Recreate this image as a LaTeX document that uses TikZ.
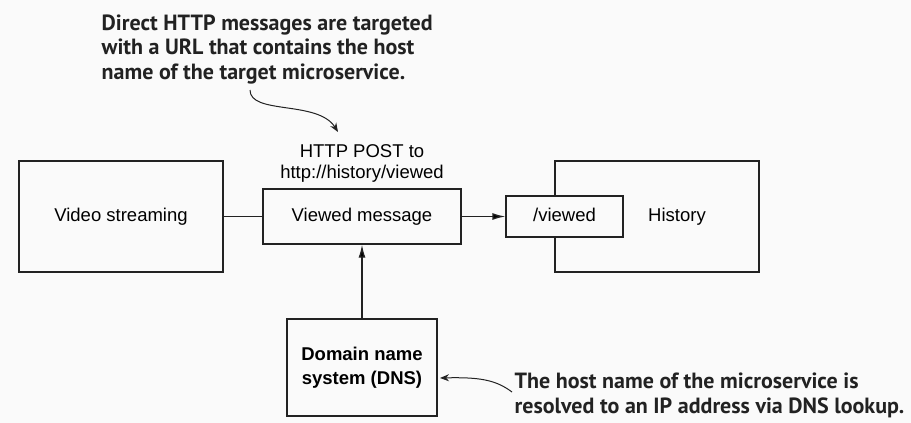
\documentclass[tikz,border=0pt]{standalone}
\usepackage{fontspec}
\setmainfont{Liberation Sans}
\newfontfamily\calloutfont{PT Sans}
\usetikzlibrary{positioning,arrows.meta}
\definecolor{paper}{RGB}{250,250,250}
\definecolor{ink}{RGB}{34,34,34}

\begin{document}
\begin{tikzpicture}[x=1pt, y=-1pt, line width=1.3pt,
  box/.style={draw=ink, fill=paper, inner sep=0pt, align=center, font=\fontsize{18.5}{21}\selectfont},
  note/.style={text=ink, align=left, inner sep=0pt, font=\calloutfont\bfseries\fontsize{22}{24.5}\selectfont},
  >={Latex[length=13pt,width=7pt]}]
  \fill[paper] (0,0) rectangle (911,423);
  \useasboundingbox (0,0) rectangle (911,423);
  \node[box, minimum width=204pt, minimum height=111pt] (vs) at (121,216.5) {Video streaming};
  \node[box, minimum width=198pt, minimum height=55pt] (vm) at (362,216.5) {Viewed message};
  \node[box, minimum width=204pt, minimum height=111pt,
    label={[xshift=20pt, font=\fontsize{18.5}{21}\selectfont]center:History}] (hist) at (657,216.5) {};
  \node[box, minimum width=117pt, minimum height=41pt, text height=13.5pt, text depth=4pt] (ep) at (564.5,216.5) {/viewed};
  \node[box, minimum width=150pt, minimum height=97pt, font=\bfseries\fontsize{18.5}{24}\selectfont] (dns) at (362,367.5) {Domain name\\system (DNS)};
  \node[align=center, inner sep=0pt, font=\fontsize{18.5}{21}\selectfont, above=5pt of vm] (post) {HTTP POST to\\http://history/viewed};
  % callouts
  \node[note, anchor=base west] (topnote) at (101,79) {Direct HTTP messages are targeted\\with a URL that contains the host\\name of the target microservice.};
  \node[note, anchor=base west] (dnsnote) at (514,413) {The host name of the microservice is\\resolved to an IP address via DNS lookup.};
  \coordinate (topfrom) at (250,90);
  \coordinate (topto) at (338,132);
  \coordinate (dnsfrom) at (512,392);
  \coordinate (dnsto) at (440,378);
  \path[draw=ink, ->]
    (vm) edge (ep)
    (dns) edge (vm);
  \draw[ink] (vs) -- (vm);
  \draw[ink, line width=1pt, -{Stealth[length=9pt,width=7pt]}]
    (topfrom) .. controls (250,115) and (318,100) .. (topto);
  \draw[ink, line width=1pt, -{Stealth[length=9pt,width=7pt]}]
    (dnsfrom) .. controls (496,380) and (480,377) .. (dnsto);
\end{tikzpicture}
\end{document}
